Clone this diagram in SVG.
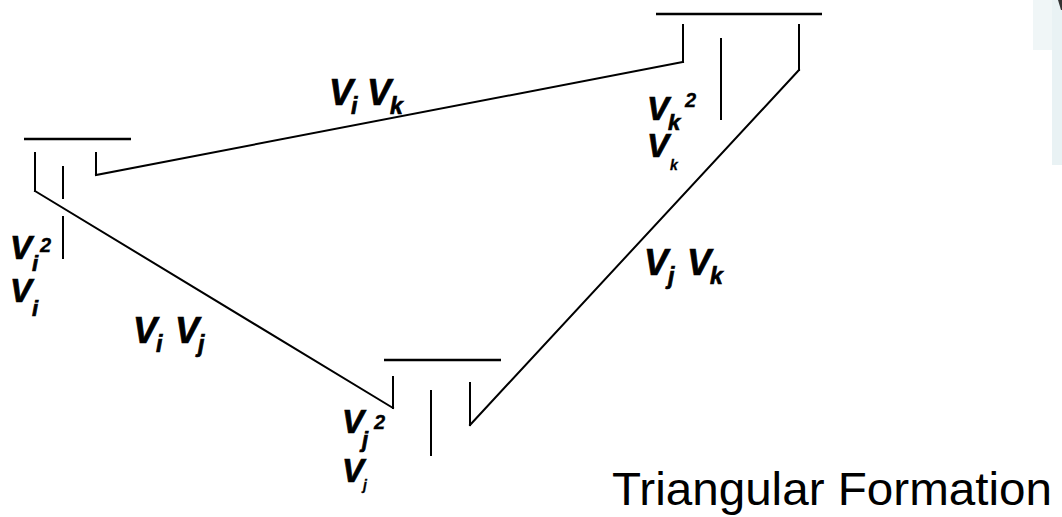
<svg xmlns="http://www.w3.org/2000/svg" width="1062" height="517" viewBox="0 0 1062 517">
<style>
.ln{stroke:#000;stroke-width:2;fill:none;stroke-linecap:square}
.bar{stroke:#000;stroke-width:2.5;fill:none}
.v{font-family:"Liberation Sans",Arial,sans-serif;font-weight:bold;font-style:italic;fill:#000;stroke:#000;stroke-width:0.7}
.big{font-size:33px}
.sub{font-size:22px}
.sup{font-size:20px;stroke-width:0.3}
.tiny{font-size:14px;stroke-width:0.3}
.el{font-size:36px}
.es{font-size:23px}
.title{font-family:"Liberation Sans",Arial,sans-serif;font-size:47px;fill:#000}
</style>
<rect width="1062" height="517" fill="#fff"/>
<rect x="1033" y="0" width="19" height="50" fill="#f0f6f7"/>
<rect x="1052" y="0" width="10" height="165" fill="#e9f2f4"/>
<path d="M1058 0 L1061 10 L1062 10 L1062 0 Z" fill="#333"/>
<g id="connectors">
<line class="ln" x1="96" y1="175" x2="683" y2="62"/>
<line class="ln" x1="35" y1="191" x2="393" y2="408"/>
<line class="ln" x1="470" y1="425" x2="799" y2="70"/>
</g>
<g id="node-i">
<line class="bar" x1="24" y1="139" x2="131" y2="139"/>
<line class="ln" x1="35" y1="153" x2="35" y2="191"/>
<line class="ln" x1="63" y1="167" x2="63" y2="198"/>
<line class="ln" x1="63" y1="217" x2="63" y2="258"/>
<line class="ln" x1="96" y1="153" x2="96" y2="175"/>
<text class="v big" x="10" y="259">V</text>
<text class="v sub" x="32" y="271">i</text>
<text class="v sup" x="40" y="252">2</text>
<text class="v big" x="10" y="302">V</text>
<text class="v sub" x="32" y="316">i</text>
</g>
<g id="node-k">
<line class="bar" x1="656" y1="14" x2="822" y2="14"/>
<line class="ln" x1="683" y1="25" x2="683" y2="62"/>
<line class="ln" x1="721" y1="39" x2="721" y2="119"/>
<line class="ln" x1="799" y1="25" x2="799" y2="70"/>
<text class="v big" x="647" y="120">V</text>
<text class="v sub" x="668" y="130">k</text>
<text class="v sup" x="685" y="107">2</text>
<text class="v big" x="647" y="157">V</text>
<text class="v tiny" x="670" y="170">k</text>
</g>
<g id="node-j">
<line class="bar" x1="384" y1="360" x2="501" y2="360"/>
<line class="ln" x1="393" y1="377" x2="393" y2="408"/>
<line class="ln" x1="431" y1="391" x2="431" y2="455"/>
<line class="ln" x1="470" y1="383" x2="470" y2="425"/>
<text class="v big" x="342" y="433">V</text>
<text class="v sub" x="362" y="447">j</text>
<text class="v sup" x="374" y="429">2</text>
<text class="v big" x="342" y="482">V</text>
<text class="v tiny" x="363" y="490">j</text>
</g>
<g id="edge-labels">
<text class="v el" x="329" y="105">V</text>
<text class="v es" x="351" y="114">i</text>
<text class="v el" x="367" y="105">V</text>
<text class="v es" x="390" y="114">k</text>
<text class="v el" x="133" y="343">V</text>
<text class="v es" x="156" y="352">i</text>
<text class="v el" x="175" y="343">V</text>
<text class="v es" x="198" y="352">j</text>
<text class="v el" x="644" y="275">V</text>
<text class="v es" x="668" y="284">j</text>
<text class="v el" x="687" y="275">V</text>
<text class="v es" x="710" y="284">k</text>
</g>
<text class="title" x="612" y="505" textLength="440" lengthAdjust="spacingAndGlyphs">Triangular Formation</text>
</svg>
